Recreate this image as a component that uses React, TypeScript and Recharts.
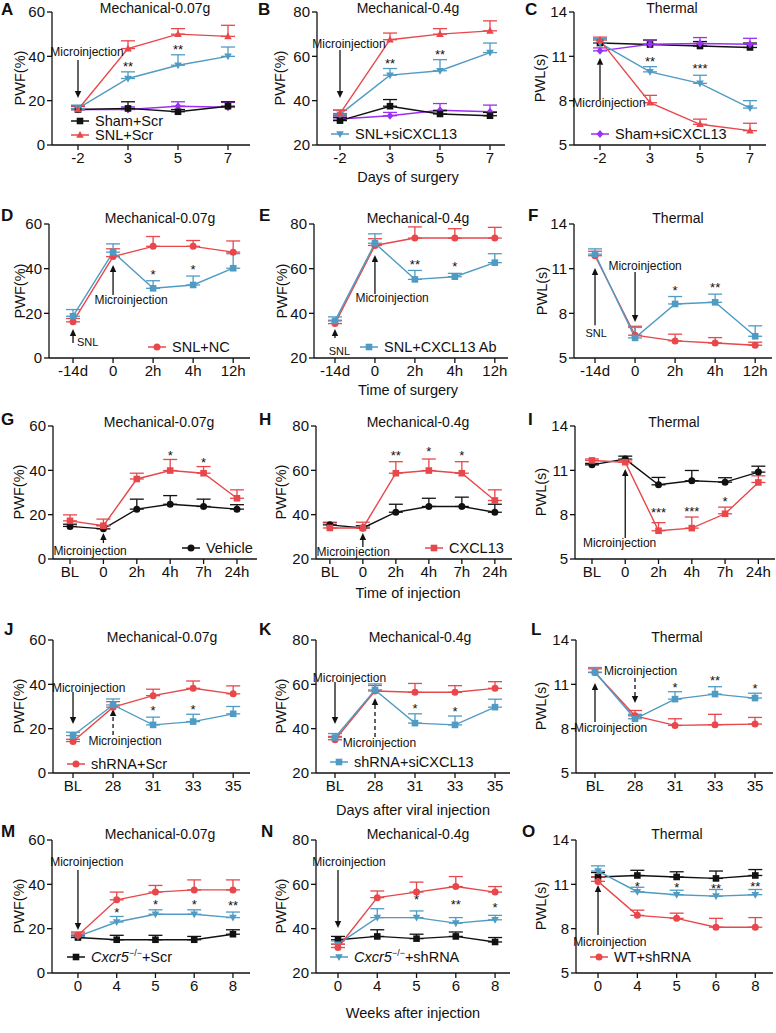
import React from 'react';
import { LineChart, Line, XAxis, YAxis, ErrorBar, ReferenceLine, ReferenceDot } from 'recharts';

const RED = '#e8474b';
const BLUE = '#4f9bc3';
const BLACK = '#111111';
const PURPLE = '#9b2ff5';
const FONT = "'Liberation Sans', Arial, sans-serif";
const NARROW = "'Liberation Sans Narrow', 'Liberation Sans', Arial, sans-serif";

// ---------- tick labels ----------
const xDaysA = ['-2', '3', '5', '7'];
const xTimeD = ['-14d', '0', '2h', '4h', '12h'];
const xTimeG = ['BL', '0', '2h', '4h', '7h', '24h'];
const xDaysJ = ['BL', '28', '31', '33', '35'];
const xWeeksM = ['0', '4', '5', '6', '8'];
const yPWF60 = [0, 20, 40, 60];
const yPWF80 = [20, 40, 60, 80];
const yPWL = [5, 8, 11, 14];

// ---------- Panel A ----------
const A_shamScr = [16, 16.5, 15, 17.5];
const A_shamScrErr = [1.5, 3, 1, 2];
const A_snlScr = [16, 43.5, 50, 49];
const A_snlScrErr = [1.5, 3.5, 2.5, 5];
const A_snlSi = [16.5, 30, 36, 40];
const A_snlSiErr = [1.5, 3, 4.7, 4.2];
const A_shamSi = [16, 16, 17.5, 17];
const A_shamSiErr = [1.5, 1.2, 2, 2.2];
// ---------- Panel B ----------
const B_shamScr = [31, 37.5, 34, 33.2];
const B_shamScrErr = [1.5, 3, 1.5, 1.5];
const B_snlScr = [34.2, 67.5, 70, 71.5];
const B_snlScrErr = [1.5, 3, 2.5, 4.5];
const B_snlSi = [33.8, 51.5, 53.5, 61.7];
const B_snlSiErr = [2, 3, 5, 4.3];
const B_shamSi = [31.7, 33.2, 35.7, 35];
const B_shamSiErr = [1.5, 1.5, 3, 3];
// ---------- Panel C ----------
const C_shamScr = [11.9, 11.8, 11.7, 11.6];
const C_shamScrErr = [0.3, 0.3, 0.3, 0.3];
const C_snlScr = [12.1, 7.86, 6.4, 5.97];
const C_snlScrErr = [0.2, 0.5, 0.35, 0.5];
const C_snlSi = [11.9, 9.95, 9.17, 7.5];
const C_snlSiErr = [0.3, 0.35, 0.55, 0.5];
const C_shamSi = [11.37, 11.82, 11.87, 11.82];
const C_shamSiErr = [0.2, 0.3, 0.4, 0.4];
// ---------- Panel D ----------
const D_nc = [16.2, 45.4, 50, 50, 47.4];
const D_ncErr = [1.5, 3.5, 4.4, 2.6, 5];
const D_ab = [18.7, 47.4, 31.2, 32.7, 40.2];
const D_abErr = [3, 3.7, 3.4, 4, 6.5];
// ---------- Panel E ----------
const E_nc = [35.4, 70.4, 73.7, 73.7, 73.7];
const E_ncErr = [1.5, 3, 5, 4.2, 4.8];
const E_ab = [36.6, 71.4, 55.2, 56.4, 62.7];
const E_abErr = [1.8, 4.2, 4, 1.5, 4];
// ---------- Panel F ----------
const F_nc = [11.87, 6.53, 6.15, 6.01, 5.86];
const F_ncErr = [0.3, 0.6, 0.45, 0.36, 0.2];
const F_ab = [11.98, 6.35, 8.63, 8.74, 6.46];
const F_abErr = [0.35, 0.7, 0.5, 0.55, 0.7];
// ---------- Panel G ----------
const G_veh = [14.7, 13.6, 22.5, 24.7, 23.7, 22.5];
const G_vehErr = [1, 1.5, 4.5, 3.9, 3.3, 2];
const G_cx = [17.2, 15, 36.1, 39.9, 38.7, 27.4];
const G_cxErr = [2.7, 3, 2.6, 5, 3, 3.8];
// ---------- Panel H ----------
const H_veh = [35.4, 34, 41.1, 43.7, 43.7, 41.1];
const H_vehErr = [1, 1, 3.6, 3.7, 4.2, 3.6];
const H_cx = [34, 34, 58.7, 59.9, 58.7, 46.4];
const H_cxErr = [2.6, 2.6, 5.2, 5.2, 5.2, 4.8];
// ---------- Panel I ----------
const I_veh = [11.37, 11.76, 10.02, 10.29, 10.2, 10.88];
const I_vehErr = [0.1, 0.2, 0.5, 0.7, 0.3, 0.4];
const I_cx = [11.67, 11.55, 6.91, 7.09, 8.06, 10.18];
const I_cxErr = [0.1, 0.15, 0.55, 0.75, 0.45, 0.45];
// ---------- Panel J ----------
const J_scr = [14.2, 29.7, 34.9, 38.2, 35.7];
const J_scrErr = [1, 2.5, 2.9, 3.3, 3.6];
const J_si = [16.9, 30.7, 21.7, 23.2, 26.7];
const J_siErr = [1.5, 2.7, 3.5, 3.3, 3.3];
// ---------- Panel K ----------
const K_scr = [35, 57, 56.4, 56.4, 58.2];
const K_scrErr = [1.5, 2.5, 4, 3, 3];
const K_si = [36, 57.5, 42.5, 41.7, 49.7];
const K_siErr = [1.8, 2.7, 4.2, 4, 3.6];
// ---------- Panel L ----------
const L_scr = [11.8, 8.87, 8.22, 8.27, 8.31];
const L_scrErr = [0.25, 0.36, 0.45, 0.7, 0.45];
const L_si = [11.82, 8.67, 10.0, 10.34, 10.07];
const L_siErr = [0.32, 0.3, 0.5, 0.5, 0.33];
// ---------- Panel M ----------
const M_koScr = [16, 15, 15, 15, 17.5];
const M_koScrErr = [1, 2, 2, 1.5, 2];
const M_wt = [17, 33, 36.5, 37.5, 37.5];
const M_wtErr = [1.5, 3.5, 3, 4.5, 4.5];
const M_koSh = [16.5, 23, 26.5, 26.5, 25];
const M_koShErr = [1.5, 2.5, 2, 2, 2.5];
// ---------- Panel N ----------
const N_koScr = [35, 36.5, 35.5, 36.5, 34];
const N_koScrErr = [1.5, 3, 2, 2, 2];
const N_wt = [31.5, 54, 56.5, 59, 56.5];
const N_wtErr = [1.5, 3, 4.5, 4.5, 2.5];
const N_koSh = [33, 45, 45, 42.5, 44];
const N_koShErr = [1.5, 4, 3, 2.5, 2];
// ---------- Panel O ----------
const O_koScr = [11.5, 11.6, 11.5, 11.4, 11.6];
const O_koScrErr = [0.3, 0.35, 0.35, 0.5, 0.4];
const O_wt = [11.2, 8.9, 8.7, 8.1, 8.1];
const O_wtErr = [0.3, 0.35, 0.35, 0.6, 0.65];
const O_koSh = [11.9, 10.5, 10.3, 10.2, 10.3];
const O_koShErr = [0.35, 0.3, 0.3, 0.45, 0.35];

type MarkerT = 'square' | 'circle' | 'triUp' | 'triDown' | 'diamond';
type Series = { vals: number[]; errs: number[]; color: string; marker: MarkerT };
type Star = { i: number; v: number; t: string };
type Arrow = { i: number; from: number; to: number; dashed?: boolean };
type Note = { i: number; v: number; t: string; anchor?: 'start' | 'middle'; size?: number };
type Panel = {
  id: string;
  cell: { x: number; y: number; w: number; h: number };
  plot: { l: number; r: number; t: number; b: number };
  xLabels: string[];
  xDomain: [number, number];
  yTicks: number[];
  series: Series[];
  stars: Star[];
  arrows: Arrow[];
  notes: Note[];
};

const sShamScr = (v: number[], e: number[]): Series => ({ vals: v, errs: e, color: BLACK, marker: 'square' });
const sSnlScr = (v: number[], e: number[]): Series => ({ vals: v, errs: e, color: RED, marker: 'triUp' });
const sSnlSi = (v: number[], e: number[]): Series => ({ vals: v, errs: e, color: BLUE, marker: 'triDown' });
const sShamSi = (v: number[], e: number[]): Series => ({ vals: v, errs: e, color: PURPLE, marker: 'diamond' });

const panels: Panel[] = [
  {
    id: 'A', cell: { x: 0, y: 0, w: 258, h: 205 }, plot: { l: 52, r: 250, t: 12, b: 145 },
    xLabels: xDaysA, xDomain: [-0.52, 3.44], yTicks: yPWF60,
    series: [sShamSi(A_shamSi, A_shamSiErr), sShamScr(A_shamScr, A_shamScrErr), sSnlSi(A_snlSi, A_snlSiErr), sSnlScr(A_snlScr, A_snlScrErr)],
    stars: [{ i: 1, v: 36.5, t: '**' }, { i: 2, v: 44, t: '**' }],
    arrows: [{ i: 0, from: 38.3, to: 21.2 }],
    notes: [{ i: 0.18, v: 42, t: 'Microinjection' }],
  },
  {
    id: 'B', cell: { x: 258, y: 0, w: 258, h: 205 }, plot: { l: 317, r: 505, t: 12, b: 145 },
    xLabels: xDaysA, xDomain: [-0.46, 3.3], yTicks: yPWF80,
    series: [sShamSi(B_shamSi, B_shamSiErr), sShamScr(B_shamScr, B_shamScrErr), sSnlSi(B_snlSi, B_snlSiErr), sSnlScr(B_snlScr, B_snlScrErr)],
    stars: [{ i: 1, v: 58, t: '**' }, { i: 2, v: 62, t: '**' }],
    arrows: [{ i: 0, from: 62.9, to: 41.2 }],
    notes: [{ i: 0.18, v: 65.6, t: 'Microinjection' }],
  },
  {
    id: 'C', cell: { x: 516, y: 0, w: 260, h: 205 }, plot: { l: 574, r: 766, t: 12, b: 145 },
    xLabels: xDaysA, xDomain: [-0.52, 3.32], yTicks: yPWL,
    series: [sShamScr(C_shamScr, C_shamScrErr), sShamSi(C_shamSi, C_shamSiErr), sSnlSi(C_snlSi, C_snlSiErr), sSnlScr(C_snlScr, C_snlScrErr)],
    stars: [{ i: 1, v: 10.8, t: '**' }, { i: 2, v: 10.35, t: '***' }],
    arrows: [{ i: 0, from: 8.05, to: 10.9 }],
    notes: [{ i: 0.18, v: 7.84, t: 'Microinjection' }],
  },
  {
    id: 'D', cell: { x: 0, y: 205, w: 258, h: 205 }, plot: { l: 49, r: 250, t: 224, b: 358 },
    xLabels: xTimeD, xDomain: [-0.6, 4.42], yTicks: yPWF60,
    series: [{ vals: D_nc, errs: D_ncErr, color: RED, marker: 'circle' }, { vals: D_ab, errs: D_abErr, color: BLUE, marker: 'square' }],
    stars: [{ i: 2, v: 38.7, t: '*' }, { i: 3, v: 40.6, t: '*' }],
    arrows: [{ i: 1, from: 28.2, to: 41.6 }, { i: 0, from: 6.7, to: 13 }],
    notes: [{ i: 1.45, v: 26, t: 'Microinjection' }, { i: 0.1, v: 7.2, t: 'SNL', anchor: 'start', size: 11 }],
  },
  {
    id: 'E', cell: { x: 258, y: 205, w: 258, h: 205 }, plot: { l: 314, r: 508, t: 224, b: 358 },
    xLabels: xTimeD, xDomain: [-0.525, 4.33], yTicks: yPWF80,
    series: [{ vals: E_nc, errs: E_ncErr, color: RED, marker: 'circle' }, { vals: E_ab, errs: E_abErr, color: BLUE, marker: 'square' }],
    stars: [{ i: 2, v: 63.2, t: '**' }, { i: 3, v: 62, t: '*' }],
    arrows: [{ i: 1, from: 48.7, to: 66.1 }, { i: 0, from: 29, to: 33 }],
    notes: [{ i: 1.43, v: 46.9, t: 'Microinjection' }, { i: 0.11, v: 23.1, t: 'SNL', size: 11 }],
  },
  {
    id: 'F', cell: { x: 516, y: 205, w: 260, h: 205 }, plot: { l: 574, r: 772, t: 224, b: 358 },
    xLabels: xTimeD, xDomain: [-0.525, 4.42], yTicks: yPWL,
    series: [{ vals: F_nc, errs: F_ncErr, color: RED, marker: 'circle' }, { vals: F_ab, errs: F_abErr, color: BLUE, marker: 'square' }],
    stars: [{ i: 2, v: 9.7, t: '*' }, { i: 3, v: 9.9, t: '**' }],
    arrows: [{ i: 1, from: 10.78, to: 7.42 }, { i: 0, from: 7.2, to: 11.04 }],
    notes: [{ i: 1.25, v: 11.18, t: 'Microinjection' }, { i: 0.03, v: 6.68, t: 'SNL', size: 11 }],
  },
  {
    id: 'G', cell: { x: 0, y: 410, w: 258, h: 205 }, plot: { l: 53, r: 257, t: 426, b: 559 },
    xLabels: xTimeG, xDomain: [-0.51, 5.6], yTicks: yPWF60,
    series: [{ vals: G_veh, errs: G_vehErr, color: BLACK, marker: 'circle' }, { vals: G_cx, errs: G_cxErr, color: RED, marker: 'square' }],
    stars: [{ i: 3, v: 48, t: '*' }, { i: 4, v: 44.7, t: '*' }],
    arrows: [{ i: 1, from: 7.2, to: 11.7 }],
    notes: [{ i: 0.6, v: 3.6, t: 'Microinjection' }],
  },
  {
    id: 'H', cell: { x: 258, y: 410, w: 258, h: 205 }, plot: { l: 316, r: 512, t: 426, b: 559 },
    xLabels: xTimeG, xDomain: [-0.42, 5.52], yTicks: yPWF80,
    series: [{ vals: H_veh, errs: H_vehErr, color: BLACK, marker: 'circle' }, { vals: H_cx, errs: H_cxErr, color: RED, marker: 'square' }],
    stars: [{ i: 2, v: 67.7, t: '**' }, { i: 3, v: 69.5, t: '*' }, { i: 4, v: 67.7, t: '*' }],
    arrows: [{ i: 1, from: 25.4, to: 31.7 }],
    notes: [{ i: 0.71, v: 23.2, t: 'Microinjection' }],
  },
  {
    id: 'I', cell: { x: 516, y: 410, w: 260, h: 205 }, plot: { l: 575, r: 775, t: 426, b: 559 },
    xLabels: xTimeG, xDomain: [-0.51, 5.5], yTicks: yPWL,
    series: [{ vals: I_veh, errs: I_vehErr, color: BLACK, marker: 'circle' }, { vals: I_cx, errs: I_cxErr, color: RED, marker: 'square' }],
    stars: [{ i: 2, v: 8.3, t: '***' }, { i: 3, v: 8.4, t: '***' }, { i: 4, v: 9.05, t: '*' }],
    arrows: [{ i: 1, from: 6.42, to: 11.09 }],
    notes: [{ i: 0.83, v: 6.08, t: 'Microinjection' }],
  },
  {
    id: 'J', cell: { x: 0, y: 615, w: 258, h: 205 }, plot: { l: 53, r: 250, t: 640, b: 773 },
    xLabels: xDaysJ, xDomain: [-0.5, 4.42], yTicks: yPWF60,
    series: [{ vals: J_scr, errs: J_scrErr, color: RED, marker: 'circle' }, { vals: J_si, errs: J_siErr, color: BLUE, marker: 'square' }],
    stars: [{ i: 2, v: 29.2, t: '*' }, { i: 3, v: 30, t: '*' }],
    arrows: [{ i: 0, from: 36.5, to: 22.1 }, { i: 1, from: 17.1, to: 28.9, dashed: true }],
    notes: [{ i: 0.39, v: 38.3, t: 'Microinjection' }, { i: 1.3, v: 14.4, t: 'Microinjection' }],
  },
  {
    id: 'K', cell: { x: 258, y: 615, w: 258, h: 205 }, plot: { l: 316, r: 510, t: 640, b: 773 },
    xLabels: xDaysJ, xDomain: [-0.475, 4.375], yTicks: yPWF80,
    series: [{ vals: K_scr, errs: K_scrErr, color: RED, marker: 'circle' }, { vals: K_si, errs: K_siErr, color: BLUE, marker: 'square' }],
    stars: [{ i: 2, v: 50.4, t: '*' }, { i: 3, v: 48.9, t: '*' }],
    arrows: [{ i: 0, from: 61, to: 42.1 }, { i: 1, from: 36.2, to: 53.8, dashed: true }],
    notes: [{ i: 0.36, v: 62.9, t: 'Microinjection' }, { i: 1.11, v: 33.5, t: 'Microinjection' }],
  },
  {
    id: 'L', cell: { x: 516, y: 615, w: 260, h: 205 }, plot: { l: 576, r: 773, t: 640, b: 773 },
    xLabels: xDaysJ, xDomain: [-0.475, 4.45], yTicks: yPWL,
    series: [{ vals: L_scr, errs: L_scrErr, color: RED, marker: 'circle' }, { vals: L_si, errs: L_siErr, color: BLUE, marker: 'square' }],
    stars: [{ i: 2, v: 10.97, t: '*' }, { i: 3, v: 11.4, t: '**' }, { i: 4, v: 10.9, t: '*' }],
    arrows: [{ i: 0, from: 8.45, to: 11.09 }, { i: 1, from: 11.43, to: 9.74, dashed: true }],
    notes: [{ i: 0.39, v: 8.05, t: 'Microinjection' }, { i: 1.14, v: 11.9, t: 'Microinjection' }],
  },
  {
    id: 'M', cell: { x: 0, y: 820, w: 258, h: 213 }, plot: { l: 52, r: 250, t: 840, b: 973 },
    xLabels: xWeeksM, xDomain: [-0.67, 4.44], yTicks: yPWF60,
    series: [{ vals: M_koScr, errs: M_koScrErr, color: BLACK, marker: 'square' }, { vals: M_koSh, errs: M_koShErr, color: BLUE, marker: 'triDown' }, { vals: M_wt, errs: M_wtErr, color: RED, marker: 'circle' }],
    stars: [{ i: 1, v: 28.5, t: '*' }, { i: 2, v: 32, t: '*' }, { i: 3, v: 32, t: '*' }, { i: 4, v: 31.5, t: '**' }],
    arrows: [{ i: 0, from: 46.5, to: 19.4 }],
    notes: [{ i: 0.23, v: 50, t: 'Microinjection' }],
  },
  {
    id: 'N', cell: { x: 258, y: 820, w: 258, h: 213 }, plot: { l: 316, r: 510, t: 840, b: 973 },
    xLabels: xWeeksM, xDomain: [-0.56, 4.38], yTicks: yPWF80,
    series: [{ vals: N_koScr, errs: N_koScrErr, color: BLACK, marker: 'square' }, { vals: N_koSh, errs: N_koShErr, color: BLUE, marker: 'triDown' }, { vals: N_wt, errs: N_wtErr, color: RED, marker: 'circle' }],
    stars: [{ i: 2, v: 54.5, t: '*' }, { i: 3, v: 52, t: '**' }, { i: 4, v: 50.5, t: '*' }],
    arrows: [{ i: 0, from: 66.5, to: 40.3 }],
    notes: [{ i: 0.28, v: 70, t: 'Microinjection' }],
  },
  {
    id: 'O', cell: { x: 516, y: 820, w: 260, h: 213 }, plot: { l: 576, r: 773, t: 840, b: 973 },
    xLabels: xWeeksM, xDomain: [-0.56, 4.45], yTicks: yPWL,
    series: [{ vals: O_koScr, errs: O_koScrErr, color: BLACK, marker: 'square' }, { vals: O_koSh, errs: O_koShErr, color: BLUE, marker: 'triDown' }, { vals: O_wt, errs: O_wtErr, color: RED, marker: 'circle' }],
    stars: [{ i: 1, v: 11.05, t: '*' }, { i: 2, v: 10.95, t: '*' }, { i: 3, v: 10.9, t: '**' }, { i: 4, v: 11.0, t: '**' }],
    arrows: [{ i: 0, from: 7.57, to: 10.95 }],
    notes: [{ i: 0.3, v: 7.1, t: 'Microinjection' }],
  },
];

// overlay texts
const titles = [
  { t: 'Mechanical-0.07g', x: 155, y: 8 }, { t: 'Mechanical-0.4g', x: 408, y: 8 }, { t: 'Thermal', x: 672, y: 8 },
  { t: 'Mechanical-0.07g', x: 160, y: 218 }, { t: 'Mechanical-0.4g', x: 418, y: 218 }, { t: 'Thermal', x: 678, y: 218 },
  { t: 'Mechanical-0.07g', x: 159, y: 422 }, { t: 'Mechanical-0.4g', x: 418, y: 422 }, { t: 'Thermal', x: 674, y: 422 },
  { t: 'Mechanical-0.07g', x: 162, y: 637 }, { t: 'Mechanical-0.4g', x: 420, y: 637 }, { t: 'Thermal', x: 677, y: 637 },
  { t: 'Mechanical-0.07g', x: 160, y: 834 }, { t: 'Mechanical-0.4g', x: 418, y: 834 }, { t: 'Thermal', x: 677, y: 834 },
];
const letters = [
  { t: 'A', x: 1, y: 10 }, { t: 'B', x: 258, y: 10 }, { t: 'C', x: 525, y: 10 },
  { t: 'D', x: 1, y: 216 }, { t: 'E', x: 259, y: 216 }, { t: 'F', x: 528, y: 216 },
  { t: 'G', x: 1, y: 420 }, { t: 'H', x: 259, y: 420 }, { t: 'I', x: 528, y: 420 },
  { t: 'J', x: 4, y: 630 }, { t: 'K', x: 259, y: 630 }, { t: 'L', x: 531, y: 630 },
  { t: 'M', x: 1, y: 832 }, { t: 'N', x: 261, y: 832 }, { t: 'O', x: 522, y: 832 },
];
const yLabels = [
  { t: 'PWF(%)', x: 20, y: 78 }, { t: 'PWF(%)', x: 280, y: 78 }, { t: 'PWL(s)', x: 540, y: 78 },
  { t: 'PWF(%)', x: 20, y: 291 }, { t: 'PWF(%)', x: 282, y: 291 }, { t: 'PWL(s)', x: 542, y: 291 },
  { t: 'PWF(%)', x: 19, y: 492 }, { t: 'PWF(%)', x: 281, y: 492 }, { t: 'PWL(s)', x: 541, y: 492 },
  { t: 'PWF(%)', x: 19, y: 706 }, { t: 'PWF(%)', x: 281, y: 706 }, { t: 'PWL(s)', x: 541, y: 706 },
  { t: 'PWF(%)', x: 19, y: 906 }, { t: 'PWF(%)', x: 281, y: 906 }, { t: 'PWL(s)', x: 541, y: 906 },
];
const xTitles = [
  { t: 'Days of surgery', x: 408, y: 177 },
  { t: 'Time of surgery', x: 408, y: 390 },
  { t: 'Time of injection', x: 408, y: 593 },
  { t: 'Days after viral injection', x: 413, y: 810 },
  { t: 'Weeks after injection', x: 413, y: 1013 },
];

function Marker({ shape, cx, cy, color }: { shape: MarkerT; cx: number; cy: number; color: string }) {
  switch (shape) {
    case 'square':
      return <rect x={cx - 3.3} y={cy - 3.3} width={6.6} height={6.6} fill={color} />;
    case 'circle':
      return <circle cx={cx} cy={cy} r={3.5} fill={color} />;
    case 'triUp':
      return <polygon points={`${cx},${cy - 4} ${cx + 3.8},${cy + 2.8} ${cx - 3.8},${cy + 2.8}`} fill={color} />;
    case 'triDown':
      return <polygon points={`${cx},${cy + 4} ${cx + 3.8},${cy - 2.8} ${cx - 3.8},${cy - 2.8}`} fill={color} />;
    case 'diamond':
      return <polygon points={`${cx},${cy - 4} ${cx + 3.4},${cy} ${cx},${cy + 4} ${cx - 3.4},${cy}`} fill={color} />;
  }
  return null;
}

const arrowShape = (dashed?: boolean) => (p: any) => {
  const { x1, y1, x2, y2 } = p;
  const dir = y2 > y1 ? 1 : -1;
  const hl = 7;
  const hw = 3.2;
  return (
    <g>
      <line x1={x1} y1={y1} x2={x2} y2={y2 - dir * hl} stroke="#111" strokeWidth={1.3}
        strokeDasharray={dashed ? '4 3' : undefined} />
      <polygon points={`${x2},${y2} ${x2 - hw},${y2 - dir * hl} ${x2 + hw},${y2 - dir * hl}`} fill="#111" />
    </g>
  );
};

const YW = 40;
const XH = 25;

function PanelChart({ p }: { p: Panel }) {
  const rows = p.xLabels.map((_, i) => {
    const r: any = { x: i };
    p.series.forEach((s, k) => {
      r['s' + k] = s.vals[i];
      r['e' + k] = [0, s.errs[i]];
    });
    return r;
  });
  const margin = {
    top: p.plot.t - p.cell.y,
    right: p.cell.x + p.cell.w - p.plot.r,
    bottom: p.cell.y + p.cell.h - p.plot.b - XH,
    left: p.plot.l - p.cell.x - YW,
  };
  const tickStyle = { fontSize: 15, fill: '#111', fontFamily: FONT };
  const axisLine = { stroke: '#111', strokeWidth: 1.3 };
  const yDom: [number, number] = [p.yTicks[0], p.yTicks[p.yTicks.length - 1]];
  return (
    <div style={{ position: 'absolute', left: p.cell.x, top: p.cell.y, width: p.cell.w, height: p.cell.h }}>
      <LineChart width={p.cell.w} height={p.cell.h} data={rows} margin={margin}>
        <XAxis type="number" dataKey="x" domain={p.xDomain} allowDataOverflow
          ticks={p.xLabels.map((_, i) => i)} tickFormatter={(v: number) => p.xLabels[v] ?? ''}
          interval={0} height={XH} tick={tickStyle} tickSize={5} tickMargin={2}
          axisLine={axisLine} tickLine={axisLine} />
        <YAxis type="number" domain={yDom} allowDataOverflow ticks={p.yTicks} width={YW}
          tick={tickStyle} tickSize={5} tickMargin={2} interval={0}
          axisLine={axisLine} tickLine={axisLine} />
        {p.series.map((s, k) => (
          <Line key={k} dataKey={'s' + k} stroke={s.color} strokeWidth={1.4} isAnimationActive={false}
            activeDot={false}
            dot={(d: any) => <Marker key={'m' + k + '-' + d.index} shape={s.marker} cx={d.cx} cy={d.cy} color={s.color} />}>
            <ErrorBar dataKey={'e' + k} width={7} stroke={s.color} strokeWidth={1.3} direction="y" />
          </Line>
        ))}
        {p.arrows.map((a, k) => (
          <ReferenceLine key={'a' + k} ifOverflow="visible"
            segment={[{ x: a.i, y: a.from }, { x: a.i, y: a.to }]}
            shape={arrowShape(a.dashed)} />
        ))}
        {p.notes.map((n, k) => (
          <ReferenceDot key={'n' + k} x={n.i} y={n.v} r={0} ifOverflow="visible"
            shape={(d: any) => (
              <text x={d.cx} y={d.cy + 4} textAnchor={n.anchor ?? 'middle'} fontSize={n.size ?? 12}
                fontFamily={NARROW} fill="#111">{n.t}</text>
            )} />
        ))}
        {p.stars.map((s, k) => (
          <ReferenceDot key={'s' + k} x={s.i} y={s.v} r={0} ifOverflow="visible"
            shape={(d: any) => (
              <text x={d.cx} y={d.cy + 7} textAnchor="middle" fontSize={13} fontFamily={FONT} fill="#111">{s.t}</text>
            )} />
        ))}
      </LineChart>
    </div>
  );
}

function LegendItem({ x, y, color, marker, children }: { x: number; y: number; color: string; marker: MarkerT; children: React.ReactNode }) {
  return (
    <div style={{ position: 'absolute', left: x, top: y - 10, height: 20, display: 'flex', alignItems: 'center', whiteSpace: 'nowrap', fontFamily: FONT, fontSize: 14.5, color: '#111', lineHeight: '20px' }}>
      <svg width={20} height={12} style={{ marginRight: 4, overflow: 'visible' }}>
        <line x1={0} y1={6} x2={18} y2={6} stroke={color} strokeWidth={1.5} />
        <Marker shape={marker} cx={9} cy={6} color={color} />
      </svg>
      <span>{children}</span>
    </div>
  );
}

const KO = (
  <>
    <i>Cxcr5</i>
    <sup style={{ fontSize: 9, verticalAlign: 'super', lineHeight: 0 }}>−/−</sup>
  </>
);

export default function App() {
  return (
    <div style={{ position: 'absolute', left: 0, top: 0, width: 776, height: 1033, background: '#fff', overflow: 'hidden', fontFamily: FONT }}>
      {panels.map((p) => <PanelChart key={p.id} p={p} />)}
      {titles.map((t, k) => (
        <div key={'t' + k} style={{ position: 'absolute', left: t.x, top: t.y, transform: 'translate(-50%, -50%)', fontSize: 14, whiteSpace: 'nowrap', color: '#111' }}>{t.t}</div>
      ))}
      {letters.map((t, k) => (
        <div key={'l' + k} style={{ position: 'absolute', left: t.x, top: t.y, transform: 'translateY(-50%)', fontSize: 17, fontWeight: 'bold', color: '#111', lineHeight: '18px' }}>{t.t}</div>
      ))}
      {yLabels.map((t, k) => (
        <div key={'y' + k} style={{ position: 'absolute', left: t.x, top: t.y, transform: 'translate(-50%, -50%) rotate(-90deg)', fontSize: 14.5, whiteSpace: 'nowrap', color: '#111' }}>{t.t}</div>
      ))}
      {xTitles.map((t, k) => (
        <div key={'x' + k} style={{ position: 'absolute', left: t.x, top: t.y, transform: 'translate(-50%, -50%)', fontSize: 14.5, whiteSpace: 'nowrap', color: '#111' }}>{t.t}</div>
      ))}
      <LegendItem x={71} y={121} color={BLACK} marker="square">Sham+Scr</LegendItem>
      <LegendItem x={71} y={135} color={RED} marker="triUp">SNL+Scr</LegendItem>
      <LegendItem x={331} y={134} color={BLUE} marker="triDown">SNL+siCXCL13</LegendItem>
      <LegendItem x={591} y={134} color={PURPLE} marker="diamond">Sham+siCXCL13</LegendItem>
      <LegendItem x={148} y={347} color={RED} marker="circle">SNL+NC</LegendItem>
      <LegendItem x={360} y={347} color={BLUE} marker="square">SNL+CXCL13 Ab</LegendItem>
      <LegendItem x={182} y={548} color={BLACK} marker="circle">Vehicle</LegendItem>
      <LegendItem x={425} y={548} color={RED} marker="square">CXCL13</LegendItem>
      <LegendItem x={67} y={764} color={RED} marker="circle">shRNA+Scr</LegendItem>
      <LegendItem x={330} y={762} color={BLUE} marker="square">shRNA+siCXCL13</LegendItem>
      <LegendItem x={67} y={957} color={BLACK} marker="square">{KO}+Scr</LegendItem>
      <LegendItem x={330} y={957} color={BLUE} marker="triDown">{KO}+shRNA</LegendItem>
      <LegendItem x={590} y={957} color={RED} marker="circle">WT+shRNA</LegendItem>
    </div>
  );
}
